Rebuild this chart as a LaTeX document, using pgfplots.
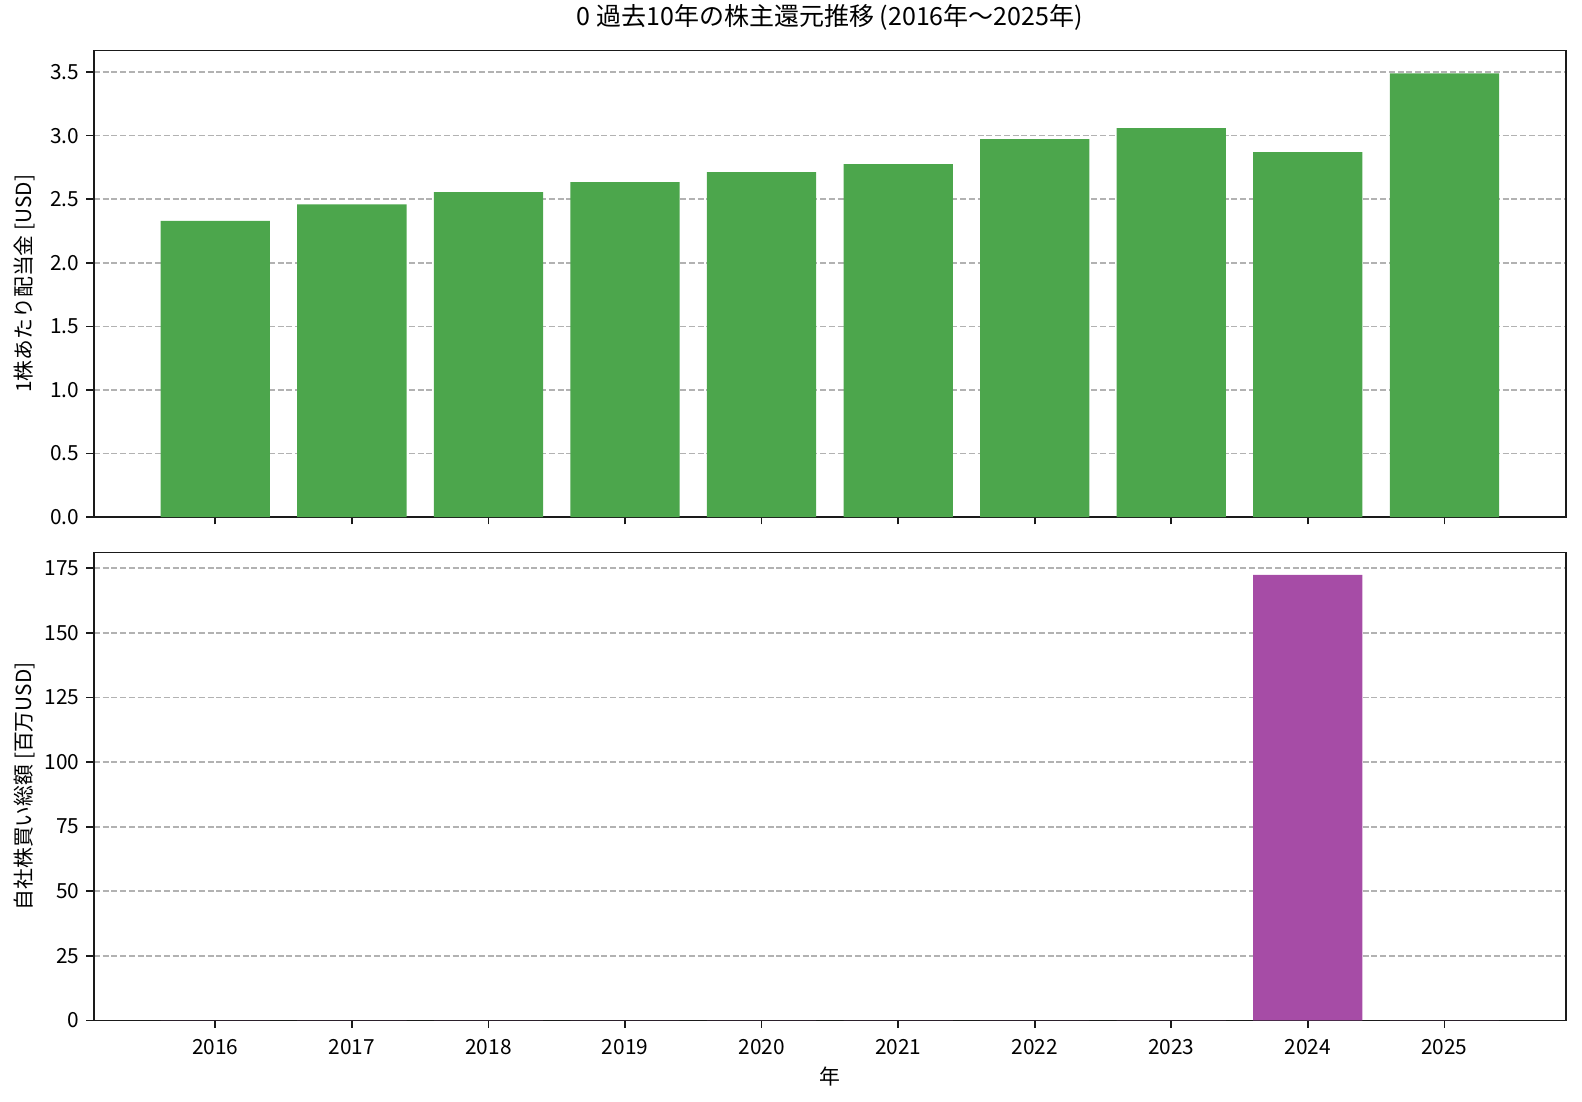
\documentclass[border=0pt]{standalone}
\usepackage{fontspec}
\setmainfont{Noto Sans CJK JP}
\usepackage{pgfplots}
\pgfplotsset{compat=1.18}
\usetikzlibrary{calc}
\definecolor{bargreen}{RGB}{76,166,76}
\definecolor{barpurple}{RGB}{166,76,166}
\definecolor{gridgray}{RGB}{178,178,178}
\definecolor{axblack}{RGB}{26,26,26}
\pgfplotsset{
  base/.style={
    width=706.6pt, scale only axis,
    xmin=2015.11, xmax=2025.89,
    enlargelimits=false,
    xtick={2016,2017,2018,2019,2020,2021,2022,2023,2024,2025},
    tick pos=left,
    tick align=outside,
    major tick length=3.5pt,
    every tick/.style={axblack, line width=0.8pt},
    axis line style={axblack, line width=0.8pt},
    ymajorgrids,
    grid style={gridgray, line width=0.8pt, dash pattern=on 2.9pt off 1.3pt},
    /pgf/number format/assume math mode=true,
    /pgf/number format/1000 sep={},
    tick label style={font=\fontsize{10}{12}\selectfont},
    xticklabel style={yshift=-2.2pt},
    label style={font=\fontsize{10}{12}\selectfont},
    xlabel style={yshift=1pt},
    ylabel style={at={(axis description cs:-0.0467,0.5)}, anchor=center, rotate=0},
    ybar, bar width=0.8,
  }
}
\begin{document}
\begin{tikzpicture}
\begin{axis}[base, name=top, height=224pt,
  ymin=0, ymax=3.67,
  ytick={0,0.5,1,1.5,2,2.5,3,3.5},
  yticklabel style={/pgf/number format/.cd, fixed, fixed zerofill, precision=1},
  xticklabels={},
  ylabel={1株あたり配当金 [USD]},
  title={0 過去10年の株主還元推移 (2016年～2025年)},
  title style={font=\fontsize{12}{14}\selectfont, at={(axis description cs:0.5,1)}, anchor=base, yshift=6pt},
]
\addplot[fill=bargreen, draw=none] coordinates {
(2016,2.33) (2017,2.46) (2018,2.556) (2019,2.634) (2020,2.713)
(2021,2.776) (2022,2.972) (2023,3.059) (2024,2.870) (2025,3.49)};
\end{axis}
\begin{axis}[base, name=bot, height=224.6pt,
  at={($(top.south west)+(0,-17pt)$)}, anchor=north west,
  ymin=0, ymax=181.1,
  ytick={0,25,50,75,100,125,150,175},
  ylabel={自社株買い総額 [百万USD]},
  xlabel={年},
]
\addplot[fill=barpurple, draw=none] coordinates {
(2016,0) (2017,0) (2018,0) (2019,0) (2020,0)
(2021,0) (2022,0) (2023,0) (2024,172.5) (2025,0)};
\end{axis}
\pgfresetboundingbox
\path[use as bounding box] ($(top.north west)+(-45pt,24.2pt)$) rectangle ($(bot.south east)+(7.7pt,-38.9pt)$);
\end{tikzpicture}
\end{document}
